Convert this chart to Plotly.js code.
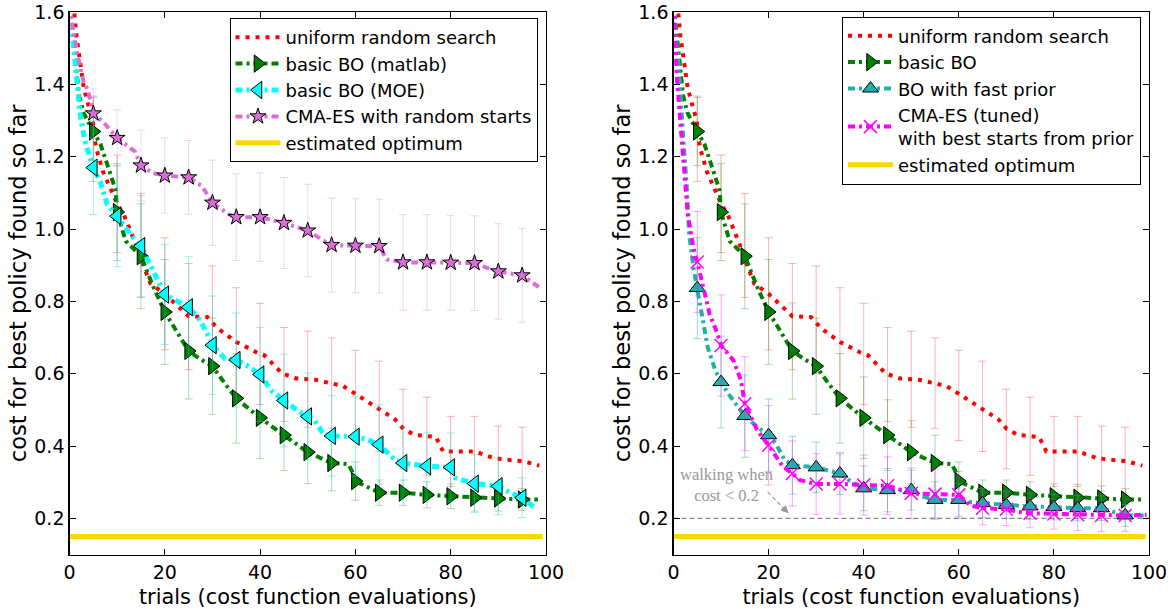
<!DOCTYPE html>
<html>
<head>
<meta charset="utf-8">
<script src="https://cdn.plot.ly/plotly-3.0.1.min.js"></script>
<style>
  html, body { margin: 0; padding: 0; background: #fff; }
  #chart { width: 1173px; height: 609px; }
</style>
</head>
<body>
<div id="chart"></div>
<script>
// ---------------- data ----------------
const trials5 = [5,10,15,20,25,30,35,40,45,50,55,60,65,70,75,80,85,90,95];

// uniform random search (both panels)
const randomMean = [1.25,1.07,0.955,0.821,0.758,0.75,0.69,0.655,0.598,0.585,0.574,0.54,0.51,0.447,0.427,0.385,0.385,0.365,0.357];
const randomErr  = [0.118,0.135,0.144,0.155,0.147,0.148,0.148,0.14,0.13,0.133,0.125,0.125,0.125,0.11,0.108,0.097,0.097,0.09,0.095];
const randomLineX = [0,1,1.4,1.9,2.6,3.0,3.8,4.9,5.2,5.9,7.0,8.4,10,11.4,12.8,13.9,14.9,16.3,17,20,22.5,25,28.9,31.1,35,39.4,40.9,44.6,47.6,51.4,54.4,57.4,60.4,63.4,65.6,68.3,70.1,72.4,76.9,78.4,85.1,88.9,91.9,95.3,98.6];
const randomLineY = [1.65,1.60,1.54,1.49,1.44,1.39,1.35,1.30,1.25,1.21,1.16,1.115,1.07,1.04,0.995,0.958,0.92,0.874,0.849,0.821,0.79,0.759,0.757,0.725,0.688,0.658,0.651,0.601,0.587,0.584,0.575,0.566,0.541,0.516,0.498,0.474,0.447,0.431,0.425,0.385,0.385,0.367,0.362,0.358,0.346];

// basic BO (matlab) / basic BO
const basicMean = [1.27,1.047,0.925,0.771,0.663,0.621,0.532,0.478,0.43,0.383,0.353,0.303,0.271,0.271,0.265,0.261,0.257,0.255,0.252];
const basicErr  = [0.094,0.134,0.145,0.145,0.133,0.133,0.124,0.113,0.098,0.087,0.077,0.053,0.035,0.035,0.036,0.034,0.037,0.035,0.03];
const basicLineX = [0,0.5,1.3,2,3,5,6.5,8.6,9.7,10,11.8,15,17.7,20,25,27.5,30,32.6,35,37.1,40,45,50,55,58.5,59.3,60,65,70,75,80,85,90,95,98.3];
const basicLineY = [1.62,1.55,1.46,1.37,1.32,1.27,1.235,1.152,1.106,1.047,0.967,0.925,0.837,0.771,0.663,0.64,0.621,0.573,0.532,0.509,0.478,0.43,0.383,0.353,0.35,0.33,0.303,0.271,0.271,0.265,0.261,0.257,0.255,0.252,0.252];

// basic BO (MOE)
const moeMean = [1.17,1.036,0.953,0.819,0.784,0.679,0.638,0.598,0.526,0.482,0.428,0.426,0.404,0.353,0.344,0.341,0.296,0.289,0.257];
const moeErr  = [0.13,0.14,0.14,0.138,0.14,0.136,0.13,0.13,0.128,0.12,0.111,0.11,0.11,0.1,0.094,0.095,0.08,0.079,0.055];
const moeLineX = [0,0.3,1,1.6,2.3,3.4,4.4,5,6.5,7.9,10,12.8,15,17,18.3,20,25,27.4,28.9,30,32.6,35,37.1,40,42.4,45,47.6,50,51.4,53.3,55,60,62.6,65,66.4,68.6,70,75,80,81,85,90,92.6,95,97.9];
const moeLineY = [1.62,1.58,1.494,1.411,1.309,1.235,1.198,1.17,1.129,1.069,1.036,0.985,0.953,0.9,0.865,0.819,0.784,0.748,0.711,0.679,0.642,0.638,0.624,0.598,0.553,0.526,0.5,0.482,0.472,0.433,0.428,0.426,0.417,0.404,0.385,0.358,0.353,0.344,0.341,0.312,0.296,0.289,0.27,0.257,0.227];

// CMA-ES with random starts
const cmaRandMean = [1.32,1.252,1.176,1.148,1.143,1.073,1.033,1.033,1.017,0.996,0.956,0.954,0.953,0.908,0.908,0.907,0.906,0.883,0.872];
const cmaRandErr  = [0.068,0.078,0.098,0.104,0.102,0.118,0.12,0.122,0.126,0.128,0.13,0.13,0.13,0.132,0.132,0.131,0.131,0.132,0.13];
const cmaRandLineX = [0,0.4,1.8,2.9,3.9,5,7.5,10,13.7,15,17.5,20,25,27.8,30,33.4,35,40,45,50,52.6,55,60,65,66.6,70,75,80,85,87.6,90,95,98.8];
const cmaRandLineY = [1.62,1.578,1.476,1.41,1.383,1.32,1.29,1.252,1.215,1.176,1.155,1.148,1.143,1.119,1.073,1.041,1.033,1.033,1.017,0.996,0.974,0.956,0.954,0.953,0.916,0.908,0.908,0.907,0.906,0.893,0.883,0.872,0.837];

// BO with fast prior
const fastMean = [0.837,0.577,0.483,0.43,0.347,0.341,0.324,0.283,0.278,0.278,0.251,0.251,0.242,0.237,0.233,0.231,0.228,0.228,0.208];
const fastErr  = [0.14,0.127,0.114,0.1,0.08,0.07,0.058,0.062,0.06,0.055,0.05,0.045,0.04,0.038,0.036,0.035,0.035,0.034,0.03];
const fastLineX = [0,0.5,1,1.4,2.1,2.8,3.3,4.2,5,6.1,7.2,8.8,10,11.5,13.8,15,17.6,20,21.5,23.4,25,30,32,35,37.5,40,45,50,52.5,55,60,62.5,65,70,75,80,85,90,93,95,99.5];
const fastLineY = [1.62,1.52,1.467,1.374,1.244,1.115,0.985,0.893,0.837,0.765,0.673,0.609,0.577,0.545,0.503,0.483,0.453,0.43,0.407,0.361,0.347,0.341,0.334,0.324,0.3,0.283,0.278,0.278,0.26,0.251,0.251,0.245,0.242,0.237,0.233,0.231,0.228,0.228,0.215,0.208,0.208];

// CMA-ES (tuned) with best starts from prior
const cmaTunedMean = [0.909,0.678,0.517,0.402,0.324,0.295,0.295,0.292,0.29,0.269,0.267,0.265,0.228,0.225,0.214,0.212,0.21,0.208,0.208];
const cmaTunedErr  = [0.14,0.14,0.13,0.11,0.09,0.084,0.083,0.083,0.08,0.07,0.07,0.065,0.046,0.045,0.04,0.042,0.044,0.044,0.044];
const cmaTunedLineX = [0,0.35,0.7,1.25,1.75,2.4,3,4.2,5,7.6,9,10,12.6,14.2,15,17.6,20,23,25,26.5,30,35,40,45,47.5,50,55,60,62.5,65,70,72.5,75,80,85,90,95,99.5];
const cmaTunedLineY = [1.62,1.522,1.42,1.328,1.235,1.115,1.041,0.948,0.909,0.765,0.719,0.678,0.637,0.581,0.517,0.444,0.402,0.343,0.324,0.306,0.295,0.295,0.292,0.29,0.28,0.269,0.267,0.265,0.235,0.228,0.225,0.218,0.214,0.212,0.21,0.208,0.208,0.21];

// estimated optimum and walking threshold
const optimumX = [0, 99.3];
const optimumY = [0.15, 0.15];
const thresholdX = [0, 100];
const thresholdY = [0.2, 0.2];

// ---------------- styling helpers ----------------
const FONT = 'DejaVu Sans, Bitstream Vera Sans, sans-serif';
const DASHDOT = '7px,4px,3px,4px';

function series(opt) {
  const xa = opt.panel === 2 ? 'x2' : 'x';
  const ya = opt.panel === 2 ? 'y2' : 'y';
  const lg = opt.panel === 2 ? 'legend2' : 'legend';
  const grp = opt.name + opt.panel;
  const markerDef = opt.symbol ? {
    symbol: opt.symbol, size: opt.msize, color: opt.mcolor || opt.color,
    line: opt.mline || {color: '#000', width: 1}
  } : {size: 1, color: 'rgba(0,0,0,0)'};
  const out = [];
  out.push({
    type: 'scatter', mode: 'lines', x: opt.lx, y: opt.ly, xaxis: xa, yaxis: ya,
    line: {color: opt.color, width: opt.width, dash: opt.dash},
    showlegend: false, legendgroup: grp, hoverinfo: 'skip'
  });
  out.push({
    type: 'scatter', mode: 'markers', x: trials5, y: opt.mean, xaxis: xa, yaxis: ya,
    marker: markerDef,
    error_y: {type: 'data', array: opt.err, visible: true, color: opt.ecolor, thickness: 1, width: 4},
    showlegend: false, legendgroup: grp
  });
  const leg = {
    type: 'scatter', mode: opt.symbol ? 'lines+markers' : 'lines', x: [null], y: [null], xaxis: xa, yaxis: ya,
    name: opt.name, legend: lg, legendgroup: grp,
    line: {color: opt.color, width: opt.width, dash: opt.dash}
  };
  if (opt.symbol) leg.marker = markerDef;
  out.push(leg);
  return out;
}

const traces = [];
// threshold (right panel)
traces.push({type: 'scatter', mode: 'lines', x: thresholdX, y: thresholdY, xaxis: 'x2', yaxis: 'y2',
  line: {color: '#888888', width: 1.3, dash: '5px,3px'}, showlegend: false, hoverinfo: 'skip'});

// ---- left panel ----
traces.push(...series({panel: 1, name: 'uniform random search', lx: randomLineX, ly: randomLineY, mean: randomMean, err: randomErr,
  color: '#ff0000', width: 4, dash: '4px,6px', ecolor: 'rgba(255,0,0,0.3)'}));
traces.push(...series({panel: 1, name: 'basic BO (matlab)', lx: basicLineX, ly: basicLineY, mean: basicMean, err: basicErr,
  color: '#008000', width: 4, dash: DASHDOT, ecolor: 'rgba(0,128,0,0.3)', symbol: 'triangle-right', msize: 15}));
traces.push(...series({panel: 1, name: 'basic BO (MOE)', lx: moeLineX, ly: moeLineY, mean: moeMean, err: moeErr,
  color: '#00ffff', width: 5, dash: DASHDOT, ecolor: 'rgba(0,220,220,0.4)', symbol: 'triangle-left', msize: 15}));
traces.push(...series({panel: 1, name: 'CMA-ES with random starts', lx: cmaRandLineX, ly: cmaRandLineY, mean: cmaRandMean, err: cmaRandErr,
  color: '#da70d6', width: 4, dash: DASHDOT, ecolor: 'rgba(218,112,214,0.3)', symbol: 'star', msize: 12}));
traces.push({type: 'scatter', mode: 'lines', x: optimumX, y: optimumY, xaxis: 'x', yaxis: 'y',
  name: 'estimated optimum', legend: 'legend', line: {color: '#ffd700', width: 5}});

// ---- right panel ----
traces.push(...series({panel: 2, name: 'uniform random search', lx: randomLineX, ly: randomLineY, mean: randomMean, err: randomErr,
  color: '#ff0000', width: 4, dash: '4px,6px', ecolor: 'rgba(255,0,0,0.3)'}));
traces.push(...series({panel: 2, name: 'basic BO', lx: basicLineX, ly: basicLineY, mean: basicMean, err: basicErr,
  color: '#008000', width: 4, dash: DASHDOT, ecolor: 'rgba(0,128,0,0.3)', symbol: 'triangle-right', msize: 15}));
traces.push(...series({panel: 2, name: 'BO with fast prior', lx: fastLineX, ly: fastLineY, mean: fastMean, err: fastErr,
  color: '#20b2aa', width: 4, dash: DASHDOT, ecolor: 'rgba(32,178,170,0.45)', symbol: 'triangle-up', msize: 14}));
traces.push(...series({panel: 2, name: 'CMA-ES (tuned)<br>with best starts from prior', lx: cmaTunedLineX, ly: cmaTunedLineY, mean: cmaTunedMean, err: cmaTunedErr,
  color: '#ff00ff', width: 4, dash: DASHDOT, ecolor: 'rgba(255,0,255,0.35)', symbol: 'x-thin', msize: 13,
  mcolor: '#ff00ff', mline: {color: '#ff00ff', width: 1.5}}));
traces.push({type: 'scatter', mode: 'lines', x: optimumX, y: optimumY, xaxis: 'x2', yaxis: 'y2',
  name: 'estimated optimum', legend: 'legend2', line: {color: '#ffd700', width: 5}});

// ---------------- layout ----------------
const W = 1173, H = 609;
function xAxis(domain, anchor) {
  return {
    domain: domain, anchor: anchor, range: [0, 100], tickvals: [0,20,40,60,80,100],
    ticks: 'inside', ticklen: 6, tickcolor: '#000', mirror: 'ticks', showline: true, linecolor: '#000', linewidth: 1.2,
    showgrid: false, zeroline: false, tickfont: {family: FONT, size: 19, color: '#000'},
    title: {text: 'trials (cost function evaluations)', font: {family: FONT, size: 20.9, color: '#000'}, standoff: 7}
  };
}
function yAxis(anchor) {
  return {
    domain: [(H - 554.5) / H, (H - 12.2) / H], anchor: anchor, range: [0.1, 1.6],
    tickvals: [0.2,0.4,0.6,0.8,1.0,1.2,1.4,1.6], tickformat: '.1f',
    ticks: 'inside', ticklen: 6, tickcolor: '#000', mirror: 'ticks', showline: true, linecolor: '#000', linewidth: 1.2,
    showgrid: false, zeroline: false, tickfont: {family: FONT, size: 19, color: '#000'},
    title: {text: 'cost for best policy found so far', font: {family: FONT, size: 22.6, color: '#000'}, standoff: 1}
  };
}
const legendBase = {
  bgcolor: '#ffffff', bordercolor: '#000', borderwidth: 1,
  font: {family: FONT, size: 18, color: '#000'}, xanchor: 'right', yanchor: 'top',
  itemwidth: 45, tracegroupgap: 0
};

const layout = {
  width: W, height: H,
  margin: {l: 0, r: 0, t: 0, b: 0},
  paper_bgcolor: '#ffffff', plot_bgcolor: '#ffffff',
  font: {family: FONT, color: '#000'},
  xaxis: xAxis([69.5 / W, 546 / W], 'y'),
  yaxis: yAxis('x'),
  xaxis2: xAxis([673.5 / W, 1149 / W], 'y2'),
  yaxis2: yAxis('x2'),
  legend: Object.assign({}, legendBase, {x: 537.5 / W, y: 1 - 18 / H}),
  legend2: Object.assign({}, legendBase, {x: 1141 / W, y: 1 - 16.5 / H}),
  showlegend: true,
  shapes: [
    {type: 'line', xref: 'x2', yref: 'y2', x0: 19.8, y0: 0.273, x1: 23.3, y1: 0.226,
     line: {color: '#999999', width: 1.2, dash: '4px,3px'}}
  ],
  annotations: [
    {xref: 'x2', yref: 'y2', x: 11.2, y: 0.293, text: 'walking when<br>cost &lt; 0.2', showarrow: false,
     font: {family: 'Liberation Serif, DejaVu Serif, serif', size: 16.5, color: '#999999'}, align: 'center'},
    {xref: 'x2', yref: 'y2', axref: 'x2', ayref: 'y2', x: 24.2, y: 0.214, ax: 23.0, ay: 0.230, text: '',
     showarrow: true, arrowhead: 2, arrowsize: 1.3, arrowwidth: 1.2, arrowcolor: '#999999'}
  ]
};

Plotly.newPlot('chart', traces, layout, {staticPlot: true, displayModeBar: false});
</script>
</body>
</html>
